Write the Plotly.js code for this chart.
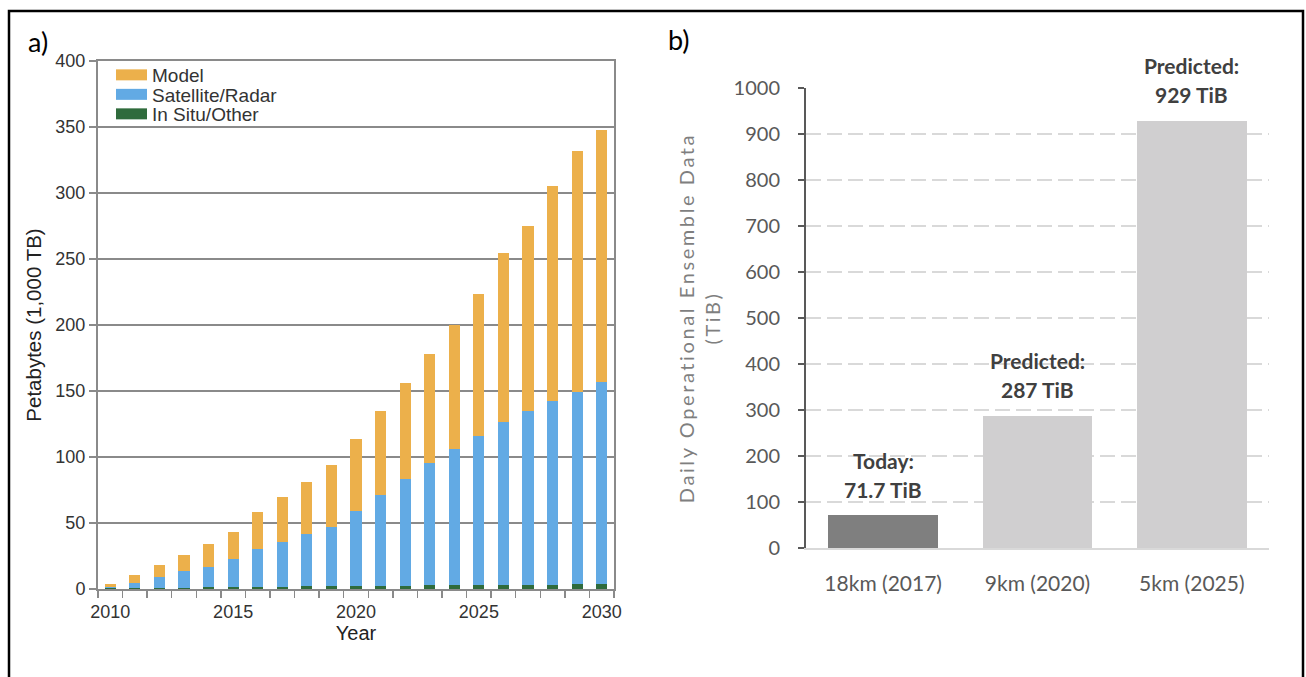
<!DOCTYPE html>
<html>
<head>
<meta charset="utf-8">
<script src="https://cdn.plot.ly/plotly-3.0.1.min.js"></script>
<style>
html, body { margin: 0; padding: 0; background: #ffffff; }
#chart { width: 1306px; height: 677px; }
.g-y2title text { letter-spacing: 2.6px; }
</style>
</head>
<body>
<div id="chart"></div>
<script>
// ---------- Panel a) data (Petabytes, 1,000 TB) ----------
const years = [2010, 2011, 2012, 2013, 2014, 2015, 2016, 2017, 2018, 2019, 2020,
               2021, 2022, 2023, 2024, 2025, 2026, 2027, 2028, 2029, 2030];
const inSituOther = [0.5, 0.7, 0.9, 1.0, 1.2, 1.4, 1.6, 1.8, 2.0, 2.1, 2.2,
                     2.4, 2.5, 2.7, 2.8, 3.0, 3.1, 3.2, 3.4, 3.5, 3.7];
const satelliteRadar = [1.2, 4.2, 8.5, 12.3, 15.8, 21.7, 29.0, 34.1, 39.9, 45.2, 57.0,
                        69.1, 80.7, 92.6, 103.1, 112.8, 123.1, 131.4, 139.4, 146.1, 152.8];
const model = [2.3, 5.5, 8.6, 12.1, 16.8, 20.4, 27.8, 33.9, 39.1, 46.5, 54.3,
               63.0, 72.5, 82.9, 94.0, 107.4, 128.0, 140.3, 162.4, 182.0, 191.0];
const xTickYears = [2010, 2015, 2020, 2025, 2030];

// ---------- Panel b) data (TiB) ----------
const resolutions = ['18km (2017)', '9km (2020)', '5km (2025)'];
const dailyData = [71.7, 287, 929];
const statusLabels = ['Today:', 'Predicted:', 'Predicted:'];
const valueLabels = ['71.7 TiB', '287 TiB', '929 TiB'];

// ---------- styles ----------
const W = 1306, H = 677;
const px = x => x / W;
const py = y => 1 - y / H;
const leftFont = 'Liberation Sans, Arial, Helvetica, sans-serif';
const rightFont = 'Lato, Carlito, Calibri, sans-serif';
const colModel = '#ECB04B';
const colSat = '#62AAE4';
const colInSitu = '#2F6B3C';
const barColors = ['#7F7F7F', '#D0CFD0', '#D0CFD0'];
const axisGrey = '#8A8A8A';

const traces = [
  { type: 'bar', name: 'In Situ/Other', x: years, y: inSituOther, width: 0.45,
    marker: { color: colInSitu }, xaxis: 'x', yaxis: 'y', hoverinfo: 'x+y+name' },
  { type: 'bar', name: 'Satellite/Radar', x: years, y: satelliteRadar, width: 0.45,
    marker: { color: colSat }, xaxis: 'x', yaxis: 'y', hoverinfo: 'x+y+name' },
  { type: 'bar', name: 'Model', x: years, y: model, width: 0.45,
    marker: { color: colModel }, xaxis: 'x', yaxis: 'y', hoverinfo: 'x+y+name' },
  { type: 'bar', name: 'Daily data', x: resolutions, y: dailyData, width: 0.71,
    marker: { color: barColors }, xaxis: 'x2', yaxis: 'y2', showlegend: false }
];

const annotations = [
  { text: 'a)', xref: 'paper', yref: 'paper', x: px(26), y: py(41), xanchor: 'left', yanchor: 'middle',
    showarrow: false, font: { family: rightFont, size: 27, color: '#000' } },
  { text: 'b)', xref: 'paper', yref: 'paper', x: px(666), y: py(39), xanchor: 'left', yanchor: 'middle',
    showarrow: false, font: { family: rightFont, size: 27, color: '#000' } }
];
resolutions.forEach((r, i) => {
  annotations.push({ text: valueLabels[i], xref: 'x2', yref: 'y2', x: r, y: dailyData[i],
    yanchor: 'middle', yshift: 26, showarrow: false,
    font: { family: rightFont, size: 21, color: '#404040', weight: 'bold' } });
  annotations.push({ text: statusLabels[i], xref: 'x2', yref: 'y2', x: r, y: dailyData[i],
    yanchor: 'middle', yshift: 55, showarrow: false,
    font: { family: rightFont, size: 21, color: '#404040', weight: 'bold' } });
});

const layout = {
  width: W, height: H,
  margin: { l: 0, r: 0, t: 0, b: 0 },
  paper_bgcolor: '#ffffff', plot_bgcolor: '#ffffff',
  barmode: 'stack',
  showlegend: true,
  legend: {
    x: px(112), y: py(56), xanchor: 'left', yanchor: 'top',
    traceorder: 'reversed', bgcolor: 'rgba(0,0,0,0)',
    font: { family: leftFont, size: 19, color: '#333333' }
  },
  xaxis: {
    domain: [px(98), px(614)], anchor: 'y',
    range: [2009.5, 2030.5], tickmode: 'array', tickvals: xTickYears,
    ticks: '', showgrid: false, zeroline: false,
    showline: true, linecolor: axisGrey, linewidth: 2, mirror: true,
    tickfont: { family: leftFont, size: 18, color: '#333333' },
    ticklabelstandoff: 5,
    minor: { tickmode: 'linear', tick0: 2009.5, dtick: 1, ticks: 'outside', ticklen: 7,
             tickwidth: 1.5, tickcolor: axisGrey, showgrid: false },
    title: { text: 'Year', font: { family: leftFont, size: 20, color: '#222222' }, standoff: 4 }
  },
  yaxis: {
    domain: [py(589), py(61)], anchor: 'x',
    range: [0, 400], tickmode: 'linear', tick0: 0, dtick: 50,
    ticks: 'outside', ticklen: 7, tickwidth: 1.5, tickcolor: axisGrey,
    showgrid: true, gridcolor: axisGrey, gridwidth: 2, zeroline: false,
    showline: true, linecolor: axisGrey, linewidth: 2, mirror: true,
    tickfont: { family: leftFont, size: 18, color: '#333333' },
    title: { text: 'Petabytes (1,000 TB)', font: { family: leftFont, size: 20.5, color: '#222222' }, standoff: 8 }
  },
  xaxis2: {
    domain: [px(806), px(1269)], anchor: 'y2', type: 'category',
    showline: true, linecolor: '#D9D9D9', linewidth: 2, ticks: '',
    showgrid: false, zeroline: false,
    tickfont: { family: rightFont, size: 21, color: '#595959' },
    ticklabelstandoff: 16
  },
  yaxis2: {
    domain: [py(548), py(88)], anchor: 'x2',
    range: [0, 1000], tickmode: 'linear', tick0: 0, dtick: 100,
    ticks: 'outside', ticklen: 6, tickwidth: 2, tickcolor: '#595959',
    showgrid: true, gridcolor: '#D9D9D9', gridwidth: 1.5, griddash: '15px,6px',
    zeroline: false, showline: true, linecolor: '#595959', linewidth: 2,
    tickfont: { family: rightFont, size: 20, color: '#595959' },
    ticklabelstandoff: 14,
    title: { text: 'Daily Operational Ensemble Data<br>(TiB)',
             font: { family: rightFont, size: 20, color: '#7F7F7F' }, standoff: 8 }
  },
  annotations: annotations,
  shapes: [
    { type: 'rect', xref: 'paper', yref: 'paper', x0: px(9), x1: px(1303), y0: -0.1, y1: py(11),
      line: { color: '#000000', width: 2.5 }, fillcolor: 'rgba(0,0,0,0)', layer: 'above' }
  ]
};

Plotly.newPlot('chart', traces, layout, { displayModeBar: false, staticPlot: true }).then(gd => {
  // wide legend swatches and tighter spacing, as in the original figure
  const items = gd.querySelectorAll('.legend .traces');
  let firstY = null;
  items.forEach((g, i) => {
    const m = /translate\(([-\d.]+),\s*([-\d.]+)\)/.exec(g.getAttribute('transform') || '');
    if (m) {
      if (firstY === null) firstY = parseFloat(m[2]);
      g.setAttribute('transform', 'translate(' + m[1] + ',' + (firstY + i * 19.5) + ')');
    }
    g.querySelectorAll('.legendpoints path').forEach(p => p.setAttribute('d', 'M-16,-5.5H15V5.5H-16Z'));
  });
});
</script>
</body>
</html>
